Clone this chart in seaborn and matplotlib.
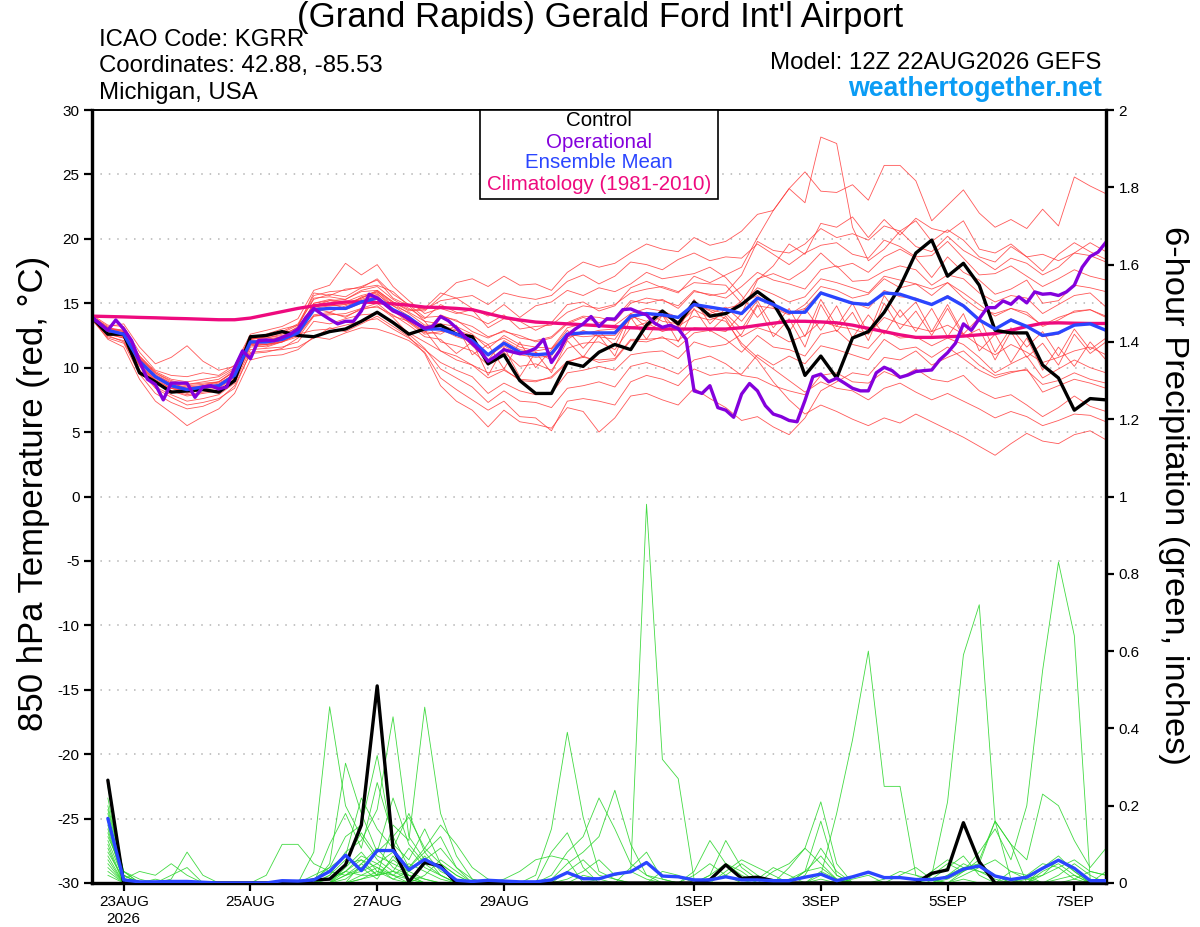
import numpy as np
import pandas as pd
import matplotlib
matplotlib.use("Agg")
import matplotlib.pyplot as plt
from matplotlib.patches import Rectangle
import seaborn as sns

# ---------------- data ----------------
x_tick_days = [0.5, 2.5, 4.5, 6.5, 9.5, 11.5, 13.5, 15.5]
x_tick_labels = ["23AUG\n2026", "25AUG", "27AUG", "29AUG", "1SEP", "3SEP", "5SEP", "7SEP"]
temp_ticks = [-30, -25, -20, -15, -10, -5, 0, 5, 10, 15, 20, 25, 30]
precip_ticks = [0, 0.2, 0.4, 0.6, 0.8, 1.0, 1.2, 1.4, 1.6, 1.8, 2.0]
precip_tick_labels = ["0", "0.2", "0.4", "0.6", "0.8", "1", "1.2", "1.4", "1.6", "1.8", "2"]

# 6-hourly 850 hPa temperature (12Z 22AUG .. 12Z 7SEP)
control_temp = [13.9, 12.6, 12.6, 9.6, 8.9, 8.1, 8.2, 8.3, 8.1, 9.0, 12.4, 12.5, 12.8, 12.5,
                12.4, 12.8, 13.0, 13.6, 14.3, 13.5, 12.6, 13.0, 13.3, 12.6, 12.4, 10.3, 11.0,
                9.0, 8.0, 8.0, 10.4, 10.1, 11.2, 11.8, 11.4, 13.3, 14.4, 13.4, 15.1, 14.0,
                14.2, 14.9, 15.9, 15.0, 12.9, 9.4, 10.9, 9.2, 12.3, 12.8, 14.3, 16.3, 18.9,
                19.9, 17.1, 18.1, 16.4, 12.9, 12.7, 12.7, 10.2, 9.2, 6.7, 7.6, 7.5]
mean_temp = [13.9, 12.9, 12.6, 10.5, 9.3, 8.6, 8.3, 8.5, 8.6, 9.4, 12.0, 12.0, 12.2, 12.7,
             14.5, 14.6, 14.6, 15.1, 15.4, 14.5, 13.9, 13.0, 13.0, 12.6, 12.1, 11.0, 11.9,
             11.2, 11.0, 11.1, 12.6, 12.7, 12.7, 12.7, 14.0, 14.2, 14.1, 13.9, 14.9, 14.7,
             14.5, 14.2, 15.4, 14.9, 14.3, 14.3, 15.8, 15.4, 15.0, 14.9, 15.8, 15.7, 15.3,
             14.9, 15.5, 14.8, 13.7, 13.0, 13.7, 13.2, 12.5, 12.7, 13.3, 13.4, 12.9]
clim_temp = [14.0, 13.97, 13.94, 13.9, 13.87, 13.83, 13.8, 13.76, 13.72, 13.72, 13.85, 14.1,
             14.35, 14.6, 14.8, 14.95, 15.1, 15.1, 15.05, 14.95, 14.85, 14.7, 14.67, 14.6,
             14.5, 14.2, 13.9, 13.7, 13.54, 13.47, 13.4, 13.33, 13.26, 13.18, 13.1, 13.05,
             13.0, 13.0, 13.0, 13.0, 13.0, 13.1, 13.28, 13.45, 13.6, 13.6, 13.55, 13.48,
             13.3, 13.05, 12.8, 12.55, 12.35, 12.35, 12.4, 12.45, 12.55, 12.65, 12.9, 13.2,
             13.45, 13.48, 13.45, 13.43, 13.43]
# 3-hourly operational run
oper_temp = [13.9, 13.4, 12.9, 13.7, 13.0, 12.1, 10.5, 9.1, 8.7, 7.5, 8.8, 8.8, 8.8, 7.7,
             8.5, 8.6, 8.35, 8.5, 10.0, 11.3, 10.7, 12.1, 12.15, 12.1, 12.35, 12.6, 13.0,
             13.9, 14.6, 14.15, 13.76, 13.4, 13.6, 13.6, 14.4, 15.7, 15.4, 14.9, 14.4, 14.15,
             13.76, 13.4, 13.07, 13.2, 13.97, 13.64, 13.08, 12.44, 11.87, 11.28, 10.5, 10.9,
             11.4, 11.23, 11.08, 11.23, 11.5, 12.2, 10.4, 11.3, 12.5, 13.0, 13.4, 13.97, 13.2,
             13.8, 13.77, 14.5, 14.56, 14.3, 14.1, 13.46, 13.13, 13.3, 13.03, 12.2, 8.2, 8.0,
             8.6, 6.9, 6.7, 6.15, 7.95, 8.77, 8.2, 7.05, 6.4, 6.2, 5.9, 5.8, 7.45, 9.3, 9.5,
             8.9, 9.18, 8.8, 8.4, 8.2, 8.2, 9.6, 10.03, 9.77, 9.25, 9.43, 9.7, 9.77, 9.82,
             10.6, 11.16, 11.9, 13.4, 12.9, 13.8, 14.66, 14.66, 15.18, 14.92, 15.5, 15.03,
             15.88, 15.7, 15.75, 15.6, 15.88, 16.4, 17.8, 18.63, 18.97, 19.74]

# ensemble member temperatures (6-hourly)
m01 = [14.0,13.1,12.9,10.9,9.6,9.0,8.7,8.9,9.1,9.9,12.4,12.5,12.8,13.4,15.6,15.9,16.0,16.3,16.8,15.4,14.8,14.5,15.2,15.4,15.6,14.9,15.8,15.5,15.3,15.6,16.7,17.2,16.5,17.1,18.2,18.0,17.6,18.4,18.9,18.3,18.6,18.5,19.6,18.8,18.0,18.9,19.5,19.7,18.8,18.5,19.9,19.4,18.6,18.7,19.8,18.5,17.2,17.3,17.9,17.1,16.3,16.9,17.6,17.1,16.8]
m02 = [13.9,12.7,12.4,10.2,8.9,8.2,7.9,8.1,8.3,9.0,11.6,11.7,12.0,12.9,15.0,15.2,15.3,15.9,16.0,15.1,14.5,14.4,15.5,16.6,16.9,16.3,17.1,16.4,16.5,16.0,17.4,18.2,17.8,18.1,18.9,19.6,19.2,19.0,20.1,19.5,19.8,20.6,21.9,22.2,23.9,22.8,27.9,27.4,20.9,18.3,19.2,20.6,21.4,19.8,20.7,19.9,18.6,18.2,19.4,18.6,17.5,18.8,19.7,19.0,18.4]
m03 = [14.1,13.3,13.2,11.2,9.8,9.4,9.3,9.6,9.4,10.2,12.6,12.9,13.2,13.8,16.0,16.4,18.1,17.2,18.0,16.3,15.2,14.2,14.6,14.2,14.5,13.1,13.8,13.6,12.9,13.5,14.9,15.1,14.4,14.8,16.2,16.7,16.2,15.8,17.1,16.6,17.2,17.8,20.1,22.2,23.9,25.2,23.7,23.6,24.2,23.0,25.7,25.7,24.5,21.4,22.6,23.8,22.0,20.9,21.5,20.8,22.3,21.0,24.8,24.1,23.5]
m04 = [13.9,12.8,12.6,10.6,9.2,8.5,8.1,8.3,8.7,9.5,11.9,11.8,12.1,12.5,14.1,14.3,13.9,14.6,15.0,14.0,13.6,12.7,14.1,13.6,13.2,12.4,12.8,12.5,12.0,12.3,13.4,13.9,13.5,13.8,15.2,15.0,15.3,14.6,15.9,15.7,15.4,16.3,17.4,16.8,16.5,16.1,17.6,17.9,16.7,16.8,17.5,17.9,17.6,16.4,17.2,16.9,15.8,15.1,15.6,15.4,14.2,14.9,15.6,15.8,14.7]
m05 = [13.8,12.6,12.3,10.1,8.8,8.4,8.0,8.3,8.2,9.0,11.8,11.6,12.0,12.6,14.6,14.3,14.8,15.2,15.6,14.4,13.5,12.6,12.8,12.9,11.7,10.6,12.1,11.4,11.2,10.6,12.2,12.9,12.4,12.2,14.0,13.6,14.4,13.2,14.8,14.2,14.7,13.6,15.2,13.1,14.6,12.4,15.3,13.2,15.0,12.6,15.6,13.9,15.1,12.8,14.9,12.6,13.9,11.2,13.1,11.6,12.8,10.9,13.0,11.4,12.3]
m06 = [14.0,13.2,13.4,11.6,10.3,10.8,11.7,10.5,9.8,10.1,12.2,12.6,13.0,13.3,15.3,15.7,15.5,16.2,16.4,15.9,14.8,13.6,12.0,11.7,11.3,10.2,11.2,10.1,10.3,9.8,11.5,11.9,12.0,11.4,13.1,13.5,12.8,13.2,14.0,13.7,14.2,15.2,16.9,17.3,16.8,17.6,18.9,17.8,18.1,17.4,18.6,19.2,18.5,17.0,18.6,17.4,16.8,15.7,16.1,16.8,15.0,15.2,16.4,16.2,15.9]
m07 = [13.8,12.5,12.0,9.8,8.5,7.9,7.4,7.6,7.9,8.8,11.4,11.5,11.6,12.0,13.6,13.4,13.8,14.1,14.2,13.6,12.7,12.0,11.3,10.6,10.2,9.2,9.8,9.1,9.0,9.2,10.4,10.9,10.4,10.6,12.1,12.0,12.4,11.6,12.7,12.9,12.2,11.2,12.5,11.6,11.4,10.9,12.6,12.9,11.8,11.5,12.9,12.3,12.4,11.7,12.3,11.8,10.8,9.6,10.3,10.9,9.2,9.9,10.6,10.0,9.6]
m08 = [13.7,12.3,11.9,9.5,8.0,7.3,6.8,7.0,7.5,8.6,11.1,11.2,11.5,12.3,14.0,14.2,14.0,14.5,14.8,13.9,12.6,11.5,9.9,9.2,8.5,7.3,8.2,7.4,7.3,6.9,8.4,8.6,8.9,8.5,10.1,10.4,10.0,9.5,10.6,10.9,10.3,9.4,9.2,8.6,8.2,7.9,9.4,9.6,8.9,8.8,9.7,9.2,9.9,9.1,8.9,9.4,8.2,7.6,7.9,7.1,6.2,6.9,7.8,7.0,6.6]
m09 = [13.8,12.2,11.6,9.1,7.4,6.5,5.5,6.2,6.8,8.0,10.6,10.9,11.0,11.4,12.4,12.2,12.7,13.1,13.0,12.6,12.1,11.2,9.2,8.3,7.5,6.7,7.4,6.2,6.1,5.1,7.4,7.6,7.4,7.1,8.9,9.4,9.1,8.6,9.9,9.4,9.6,9.5,11.0,10.2,10.9,10.3,11.7,11.4,11.0,10.6,12.2,11.4,11.6,10.8,11.6,10.7,9.8,9.2,9.6,9.9,8.1,8.6,9.1,8.8,8.4]
m10 = [14.0,13.0,12.9,10.9,9.7,9.1,8.9,9.1,9.3,10.0,12.5,12.3,12.6,13.1,14.8,15.2,15.0,15.4,16.0,15.1,14.4,14.6,15.8,15.4,14.6,14.0,14.9,13.9,14.8,15.1,16.0,15.6,16.2,15.9,16.5,17.4,16.9,17.1,17.3,17.8,17.0,15.6,13.9,15.2,12.8,14.6,12.9,14.8,12.3,14.1,12.6,14.5,12.8,14.6,12.4,14.2,11.3,12.6,10.4,12.3,9.8,11.6,10.1,12.0,10.6]
m11 = [13.9,12.8,12.5,10.4,9.1,8.4,8.2,8.4,8.5,9.3,11.9,12.1,12.4,12.6,12.9,13.0,13.3,13.6,13.8,13.0,12.3,11.4,10.4,9.8,9.3,8.0,8.8,8.2,7.9,8.0,9.6,9.8,10.1,9.8,11.0,11.2,11.3,10.7,12.0,11.6,11.8,12.6,14.8,14.6,14.1,14.9,16.3,16.0,15.4,15.7,16.9,16.2,16.5,15.6,16.6,15.8,14.9,14.0,14.6,14.3,13.2,13.7,14.4,14.5,14.0]
m12 = [13.9,12.6,12.3,10.2,9.0,8.2,7.8,8.0,8.2,9.1,11.7,11.8,12.0,12.6,14.9,14.8,14.9,15.4,15.9,15.0,14.2,13.3,13.3,12.9,12.5,11.8,12.3,11.6,11.3,11.5,12.4,12.6,12.9,13.0,13.8,14.3,13.6,13.4,14.5,13.9,13.6,11.9,10.8,9.9,9.0,8.1,8.9,8.4,8.2,7.5,8.4,8.8,8.1,7.5,8.0,7.4,6.8,6.1,6.6,6.2,5.5,5.9,6.4,6.3,5.8]
m13 = [14.0,13.0,12.8,10.7,9.4,8.8,8.4,8.6,8.9,9.7,12.3,12.2,12.4,13.2,15.8,15.6,16.1,16.2,16.9,15.7,14.9,13.9,14.0,13.7,12.8,12.3,12.9,12.3,12.1,12.4,13.5,14.0,13.9,13.6,15.0,15.4,15.2,14.8,16.0,15.6,15.8,17.2,19.8,19.1,18.9,19.6,20.8,20.1,20.4,19.9,21.0,20.6,19.4,19.0,20.2,19.1,18.4,17.6,18.5,18.1,17.2,17.8,18.9,18.7,18.2]
m14 = [13.9,12.9,12.7,10.6,9.3,8.7,8.5,8.6,8.8,9.5,12.1,12.1,12.3,12.7,14.0,14.1,14.2,14.6,14.7,14.1,13.3,12.4,12.2,11.1,12.0,9.4,11.6,9.3,11.2,9.6,12.1,10.8,12.5,10.9,13.9,12.2,14.1,12.0,14.6,12.8,14.0,12.4,13.1,12.7,12.0,12.5,13.6,13.2,13.0,12.6,13.9,13.4,13.1,12.8,13.3,12.6,11.7,11.0,11.8,11.2,10.4,10.8,11.3,11.6,11.0]
m15 = [14.0,13.0,12.7,10.7,9.6,8.9,8.7,8.8,8.9,9.8,12.2,12.4,12.7,13.3,15.4,15.5,15.3,16.0,16.3,15.3,14.6,13.8,14.9,14.3,14.0,13.4,14.1,13.0,13.2,13.3,14.3,14.8,14.6,14.9,15.8,16.1,16.3,15.9,16.6,16.5,16.4,15.0,15.6,14.7,14.2,14.6,15.9,15.3,15.1,14.6,16.0,15.5,15.4,14.9,15.6,14.9,13.8,13.0,13.8,13.2,12.4,12.6,13.3,13.5,12.8]
m16 = [13.9,12.8,12.6,10.4,9.2,8.6,8.3,8.5,8.5,9.3,11.9,11.9,12.1,12.8,14.6,14.8,14.9,15.3,15.7,14.8,14.0,12.9,11.3,10.9,10.2,9.6,9.9,9.0,8.9,9.3,10.5,10.8,10.6,10.7,12.2,12.2,12.3,12.1,13.1,13.0,12.8,14.2,16.8,17.9,19.6,18.8,21.2,20.9,21.7,20.1,21.5,20.3,21.6,20.8,20.5,21.4,19.2,18.9,19.6,18.6,18.8,18.3,18.9,19.7,19.0]
m17 = [13.8,12.4,12.1,9.8,8.4,7.7,7.1,7.3,7.6,8.4,11.2,11.3,11.4,11.6,12.3,13.1,12.8,13.4,14.0,13.2,12.4,11.1,8.6,7.4,6.7,5.4,6.7,5.8,5.6,5.3,6.9,6.6,5.0,6.1,7.8,8.0,7.5,7.1,8.4,7.6,6.9,5.9,6.2,5.4,4.8,6.1,8.2,8.9,9.6,9.4,10.8,10.6,11.3,10.2,10.8,11.3,10.2,9.4,9.7,9.8,8.7,9.0,9.6,9.1,8.8]
m18 = [14.0,13.1,12.8,10.8,9.5,8.8,8.6,8.7,8.9,9.7,12.2,12.3,12.5,12.9,15.0,15.3,15.1,15.6,15.9,14.8,14.3,13.6,13.4,13.2,12.6,11.5,12.5,11.8,11.6,11.5,13.1,13.4,13.2,13.3,14.2,14.6,14.4,13.9,15.0,14.4,13.8,11.7,10.6,8.9,7.5,6.4,7.1,6.6,6.0,5.5,6.1,5.7,6.4,5.8,5.2,4.6,3.9,3.2,4.1,4.9,4.3,4.1,4.8,5.1,4.4]
m19 = [13.9,12.7,12.4,10.3,9.0,8.4,8.1,8.3,8.4,9.2,11.8,11.8,12.0,12.4,14.7,15.0,14.6,15.5,15.8,14.5,13.6,12.8,12.6,13.3,11.0,11.8,9.9,12.0,10.0,11.4,12.9,11.5,12.8,11.7,14.2,13.1,14.1,12.9,15.3,13.4,14.6,14.9,16.2,15.7,15.1,15.5,16.9,16.6,16.2,15.8,17.1,16.8,16.5,16.1,16.6,15.4,14.5,14.2,14.6,14.1,13.3,13.9,14.3,14.5,13.9]
m20 = [13.9,12.9,12.6,10.5,9.3,8.6,8.4,8.5,8.7,9.4,12.0,12.1,12.2,12.7,14.5,14.6,14.5,15.0,15.3,14.4,13.9,13.2,13.0,12.4,12.0,10.9,11.7,11.0,10.8,10.9,12.6,12.4,12.5,12.5,13.8,14.2,14.0,13.6,14.9,14.5,14.2,13.0,14.9,12.4,13.8,11.6,14.9,12.8,14.3,12.1,15.0,13.0,14.4,12.5,14.6,12.4,13.0,10.6,12.8,10.8,11.9,10.2,12.6,11.1,12.0]
member_temps = [m01, m02, m03, m04, m05, m06, m07, m08, m09, m10,
                m11, m12, m13, m14, m15, m16, m17, m18, m19, m20]

# 6-hour precipitation (18Z 22AUG .. 12Z 7SEP), inches
control_precip = [0.266,0,0,0,0,0,0,0, 0,0,0,0,0,0.008,0.01,0.047, 0.15,0.51,0.09,0.003,0.053,0.044,0,0,
                  0,0,0,0,0,0,0,0, 0,0,0,0,0,0,0.008,0.047, 0.012,0.015,0.006,0,0,0,0,0,
                  0,0,0,0,0.025,0.034,0.156,0.055, 0,0,0,0,0,0,0,0]
mean_precip = [0.167,0.008,0.003,0.003,0.004,0.004,0.002,0, 0,0,0,0.006,0.005,0.008,0.03,0.072,
               0.032,0.084,0.084,0.034,0.061,0.04,0.007,0.004, 0.007,0.005,0.003,0.003,0.008,0.027,0.011,0.011,
               0.023,0.029,0.053,0.018,0.016,0.008,0.008,0.016, 0.008,0.008,0.006,0.006,0.015,0.023,0.006,0.016,
               0.028,0.014,0.014,0.009,0.009,0.015,0.036,0.044, 0.018,0.009,0.015,0.038,0.059,0.038,0.006,0.006]
g01 = [0.18,0.02,0,0.01,0,0,0,0, 0,0,0,0,0,0.08,0.456,0.20, 0.12,0.06,0.03,0.02,0.01,0,0,0, 0,0,0,0,0,0,0.02,0.01, 0,0,0,0.03,0.02,0,0,0, 0,0,0,0,0,0.01,0,0, 0,0,0,0,0,0.02,0.04,0.03, 0.01,0,0,0,0.02,0.05,0.02,0]
g02 = [0.12,0.03,0,0,0.02,0.04,0,0, 0,0,0,0,0,0,0.05,0.31, 0.18,0.08,0.22,0.10,0.05,0.02,0,0, 0,0,0,0,0,0.03,0.06,0.02, 0.01,0,0,0,0,0.02,0.05,0.02, 0,0,0,0,0,0,0,0, 0,0,0.02,0.04,0.01,0,0,0, 0,0.03,0.01,0,0,0,0,0]
g03 = [0.05,0,0,0,0,0,0,0, 0,0,0,0,0,0.02,0.04,0.12, 0.15,0.33,0.10,0.06,0.14,0.05,0.02,0, 0,0,0,0,0.08,0.13,0.04,0, 0,0,0,0,0,0,0.02,0.11, 0.04,0.01,0,0,0,0,0,0.01, 0.02,0,0,0,0,0,0.01,0, 0,0,0,0.02,0.06,0.03,0,0]
g04 = [0.20,0.03,0.01,0,0,0,0,0, 0,0,0,0,0,0,0.10,0.18, 0.09,0.26,0.12,0.04,0.08,0.12,0.04,0, 0,0,0,0,0,0,0,0.01, 0.02,0.03,0.01,0,0,0,0,0, 0,0.01,0.04,0.02,0,0,0,0, 0,0,0,0,0,0,0.03,0.05, 0.02,0,0,0,0,0.01,0.03,0.02]
g05 = [0.10,0,0,0,0,0,0,0, 0,0,0,0,0,0,0.02,0.08, 0.11,0.19,0.43,0.12,0.06,0.04,0,0, 0,0,0,0,0,0,0,0, 0,0,0,0,0,0,0.02,0.05, 0.03,0,0,0,0.03,0.07,0.02,0, 0,0,0,0,0,0,0,0, 0,0,0,0.04,0.07,0.03,0,0]
g06 = [0.08,0.01,0,0,0,0,0,0, 0,0,0,0,0,0,0,0.05, 0.06,0.02,0.15,0.11,0.455,0.18,0.07,0.01, 0,0,0,0,0,0,0,0, 0,0.04,0.08,0.01,0,0,0,0, 0,0,0,0,0,0,0,0, 0,0.01,0.03,0.02,0,0,0.02,0.04, 0.06,0.03,0.02,0,0,0,0,0]
g07 = [0.15,0,0,0,0.01,0.08,0.02,0, 0,0,0,0,0,0.01,0.04,0.07, 0.22,0.14,0.09,0.18,0.08,0.03,0.01,0, 0,0,0,0,0,0,0,0, 0,0,0,0,0,0,0,0, 0,0,0,0,0.02,0.09,0.03,0, 0,0,0,0,0.01,0.04,0.07,0.02, 0,0,0,0,0.01,0.02,0,0]
g08 = [0.25,0.02,0,0,0,0,0,0, 0,0,0,0,0,0,0,0.02, 0.04,0.08,0.12,0.17,0.09,0.05,0.02,0, 0,0.01,0.03,0.06,0.07,0.06,0,0, 0,0,0,0,0,0,0,0, 0,0,0,0.01,0.03,0.04,0.01,0, 0,0,0,0,0,0,0,0, 0,0,0.01,0.02,0.04,0.06,0.03,0.02]
g09 = [0.06,0,0,0,0,0,0,0, 0,0,0,0,0,0,0.01,0.03, 0.07,0.05,0.08,0.04,0.09,0.15,0.10,0.04, 0.01,0,0,0,0,0,0,0, 0,0,0,0,0,0,0,0.03, 0.06,0.04,0.02,0,0,0,0,0, 0,0,0,0,0,0,0,0, 0,0,0,0,0,0,0,0]
g10 = [0.04,0,0,0,0,0,0,0, 0,0,0,0,0,0,0,0, 0.01,0.02,0.03,0.01,0,0,0,0, 0,0,0,0.02,0.14,0.39,0.17,0.03, 0.01,0,0,0,0,0,0,0, 0,0,0,0,0,0,0,0, 0,0,0,0,0,0.02,0.05,0.03, 0.02,0,0,0,0,0,0,0]
g11 = [0.13,0.01,0,0,0,0,0,0, 0,0,0,0,0,0,0,0.04, 0.08,0.03,0.01,0,0.02,0.06,0.03,0, 0,0,0,0,0.01,0.05,0.08,0.12, 0.24,0.10,0.02,0,0,0,0,0, 0,0,0,0,0,0.03,0.01,0, 0,0,0,0,0,0,0,0, 0,0,0.02,0.05,0.04,0.01,0,0]
g12 = [0.09,0,0,0,0,0,0,0, 0,0,0.02,0.10,0.10,0.05,0.03,0.02, 0.05,0.09,0.04,0.02,0,0,0,0, 0,0,0,0,0.02,0.08,0.12,0.22, 0.14,0.05,0.02,0.01,0,0,0,0, 0,0,0,0,0,0,0,0, 0,0,0,0,0,0,0,0, 0,0,0,0,0,0,0,0]
g13 = [0.11,0.01,0,0,0,0,0,0, 0,0,0,0,0,0,0.01,0.03, 0.06,0.04,0.02,0.05,0.03,0.01,0,0, 0,0,0,0,0,0.01,0.03,0.06, 0.02,0.03,0.98,0.32,0.27,0.01,0,0, 0,0,0,0,0,0,0,0, 0,0,0,0,0,0,0,0, 0,0,0,0,0,0,0,0]
g14 = [0.22,0.01,0.03,0.02,0.05,0.02,0,0, 0,0,0,0,0,0,0.02,0.06, 0.13,0.07,0.05,0.03,0.07,0.02,0,0, 0,0,0,0,0,0,0,0, 0,0,0,0,0,0.03,0.11,0.05, 0.02,0,0.03,0.05,0.09,0.05,0.01,0, 0,0,0,0,0,0,0,0, 0,0,0,0,0,0,0,0]
g15 = [0.07,0,0,0,0,0,0,0, 0,0,0,0,0,0,0,0.02, 0.03,0.05,0.02,0.01,0,0,0,0, 0,0,0,0,0,0,0,0, 0,0,0,0,0,0,0,0, 0,0,0,0,0,0.02,0.18,0.37, 0.60,0.25,0.25,0.02,0.01,0,0,0, 0,0,0,0,0,0,0,0]
g16 = [0.16,0.02,0,0,0,0,0,0, 0,0,0,0,0,0,0,0.03, 0.02,0.02,0.06,0.03,0.01,0,0,0, 0,0,0,0,0,0,0,0, 0,0,0,0,0,0,0,0, 0,0,0,0,0,0,0,0, 0,0,0,0,0.02,0.21,0.59,0.72, 0.16,0.01,0,0,0,0,0,0]
g17 = [0.03,0,0,0,0,0,0,0, 0,0,0,0,0,0,0,0, 0.01,0.03,0.02,0,0,0,0,0, 0,0,0,0,0,0,0,0, 0,0,0,0,0,0,0,0, 0,0,0,0,0,0,0,0, 0,0,0,0,0,0.01,0.03,0.08, 0.14,0.06,0.20,0.55,0.83,0.64,0.01,0]
g18 = [0.14,0,0,0,0,0,0,0, 0,0,0,0,0,0,0,0.01, 0.04,0.01,0.07,0.02,0,0,0,0, 0,0,0,0,0,0,0,0, 0,0,0,0,0,0,0,0, 0,0,0,0,0,0,0,0, 0,0,0,0,0.02,0.05,0.03,0.06, 0.16,0.10,0.06,0.23,0.20,0.11,0.04,0.09]
g19 = [0.19,0.03,0,0,0,0,0,0, 0,0,0,0,0,0,0,0, 0.05,0.02,0.03,0.09,0.04,0.02,0,0, 0,0,0,0,0,0,0,0, 0,0,0,0,0,0,0.01,0.02, 0.05,0.02,0,0.04,0.09,0.21,0.05,0, 0,0,0,0,0,0,0,0, 0,0,0,0.03,0.05,0.02,0,0.03]
g20 = [0.02,0,0,0,0,0,0,0, 0,0,0,0,0,0,0,0, 0.02,0.04,0.01,0.03,0.06,0.09,0.04,0.01, 0,0,0,0,0,0,0,0, 0,0,0,0,0,0,0,0, 0,0,0,0,0.03,0.16,0.02,0, 0,0,0,0,0.03,0.06,0.04,0.05, 0.16,0.10,0,0,0,0,0,0]
member_precips = [g01, g02, g03, g04, g05, g06, g07, g08, g09, g10,
                  g11, g12, g13, g14, g15, g16, g17, g18, g19, g20]

# ---------------- tables ----------------
def six_hourly(vals, start=0):
    return (np.arange(len(vals)) + start) / 4.0

red_df = pd.concat([pd.DataFrame({"day": six_hourly(v), "temp": v, "member": k})
                    for k, v in enumerate(member_temps)], ignore_index=True)
green_df = pd.concat([pd.DataFrame({"day": six_hourly(v, 1), "precip": v, "member": k})
                      for k, v in enumerate(member_precips)], ignore_index=True)
ctl_t = pd.DataFrame({"day": six_hourly(control_temp), "temp": control_temp})
mean_t = pd.DataFrame({"day": six_hourly(mean_temp), "temp": mean_temp})
clim_t = pd.DataFrame({"day": six_hourly(clim_temp), "temp": clim_temp})
oper_t = pd.DataFrame({"day": np.arange(len(oper_temp)) / 8.0, "temp": oper_temp})
ctl_p = pd.DataFrame({"day": six_hourly(control_precip, 1), "precip": control_precip})
mean_p = pd.DataFrame({"day": six_hourly(mean_precip, 1), "precip": mean_precip})

# ---------------- style ----------------
sns.set_theme(style="ticks")
plt.rcParams['font.family'] = ['Liberation Sans', 'DejaVu Sans']
plt.rcParams['text.color'] = 'black'
plt.rcParams['axes.labelcolor'] = 'black'
plt.rcParams['xtick.color'] = 'black'
plt.rcParams['ytick.color'] = 'black'

W, H = 1200, 927
def fx(px): return px / W
def fy(py): return 1 - py / H

fig = plt.figure(figsize=(12, 9.27), dpi=100)
ax = fig.add_axes([fx(92), fy(883), (1106 - 92) / W, (883 - 110) / H])
ax2 = ax.twinx()

RED = '#ff3b3b'
GREEN = '#2ed62e'
BLUE = '#2a45ff'
PURPLE = '#8400dc'
PINK = '#ee0a7e'

sns.lineplot(data=red_df, x="day", y="temp", units="member", estimator=None,
             color=RED, linewidth=0.6, alpha=0.85, ax=ax, legend=False, zorder=2)
sns.lineplot(data=clim_t, x="day", y="temp", color=PINK, linewidth=2.4, ax=ax, zorder=3)
sns.lineplot(data=ctl_t, x="day", y="temp", color="black", linewidth=2.4, ax=ax, zorder=4)
sns.lineplot(data=mean_t, x="day", y="temp", color=BLUE, linewidth=2.4, ax=ax, zorder=5)
sns.lineplot(data=oper_t, x="day", y="temp", color=PURPLE, linewidth=2.4, ax=ax, zorder=6)

sns.lineplot(data=green_df, x="day", y="precip", units="member", estimator=None,
             color=GREEN, linewidth=0.6, alpha=0.9, ax=ax2, legend=False, zorder=2)
sns.lineplot(data=ctl_p, x="day", y="precip", color="black", linewidth=2.4, ax=ax2, zorder=4)
sns.lineplot(data=mean_p, x="day", y="precip", color=BLUE, linewidth=2.4, ax=ax2, zorder=5)

ax.set_xlim(0, 16)
ax.set_ylim(-30, 30)
ax2.set_ylim(0, 2)
ax.set_yticks(temp_ticks)
ax.set_yticklabels([str(t) for t in temp_ticks])
ax2.set_yticks(precip_ticks)
ax2.set_yticklabels(precip_tick_labels)
ax.set_xticks(x_tick_days)
ax.set_xticklabels(x_tick_labels)
ax.set_xlabel("")
ax.set_ylabel("")
ax2.set_ylabel("")

ax.yaxis.grid(True, color='#b4b4b4', linestyle=(0, (1, 4.5)), linewidth=1.1)
ax.xaxis.grid(False)
ax.tick_params(axis='both', direction='out', length=6, width=1.6, labelsize=11,
               colors='black', pad=3)
ax2.tick_params(axis='y', direction='out', length=6, width=1.6, labelsize=11,
                colors='black', pad=3)
for a in (ax, ax2):
    for side in ('left', 'right', 'bottom'):
        a.spines[side].set_visible(True)
        a.spines[side].set_linewidth(2.3)
        a.spines[side].set_color('black')
    a.spines['top'].set_visible(True)
    a.spines['top'].set_linewidth(1.2)
    a.spines['top'].set_color('black')

# axis titles
fig.text(fx(34), fy(493), "850 hPa Temperature (red, \u00b0C)", rotation=90,
         ha='center', va='center', fontsize=25, color='black')
fig.text(fx(1174), fy(495), "6-hour Precipitation (green, inches)", rotation=270,
         ha='center', va='center', fontsize=24.8, color='black')

# header
fig.text(fx(600), fy(18), "(Grand Rapids) Gerald Ford Int'l Airport",
         ha='center', va='center', fontsize=25, color='black')
fig.text(fx(99), fy(40), "ICAO Code: KGRR", ha='left', va='center', fontsize=17.3, color='black')
fig.text(fx(99), fy(66), "Coordinates: 42.88, -85.53", ha='left', va='center', fontsize=17.3, color='black')
fig.text(fx(99), fy(93), "Michigan, USA", ha='left', va='center', fontsize=17.3, color='black')
fig.text(fx(1101), fy(63), "Model: 12Z 22AUG2026 GEFS", ha='right', va='center', fontsize=17.3, color='black')
fig.text(fx(1102), fy(89), "weathertogether.net", ha='right', va='center',
         fontsize=19.3, fontweight='bold', color='#0a9cf5')

# legend box
fig.add_artist(Rectangle((fx(480), fy(199)), (718 - 480) / W, (199 - 110) / H,
                         transform=fig.transFigure, facecolor='white',
                         edgecolor='black', linewidth=1.2, zorder=5))
legend_items = [("Control", "black", 121), ("Operational", PURPLE, 142),
                ("Ensemble Mean", BLUE, 163), ("Climatology (1981-2010)", PINK, 185)]
for txt, col, yy in legend_items:
    fig.text(fx(599), fy(yy), txt, ha='center', va='center', fontsize=14.8,
             color=col, zorder=6)

fig.savefig("out.png", dpi=100)
